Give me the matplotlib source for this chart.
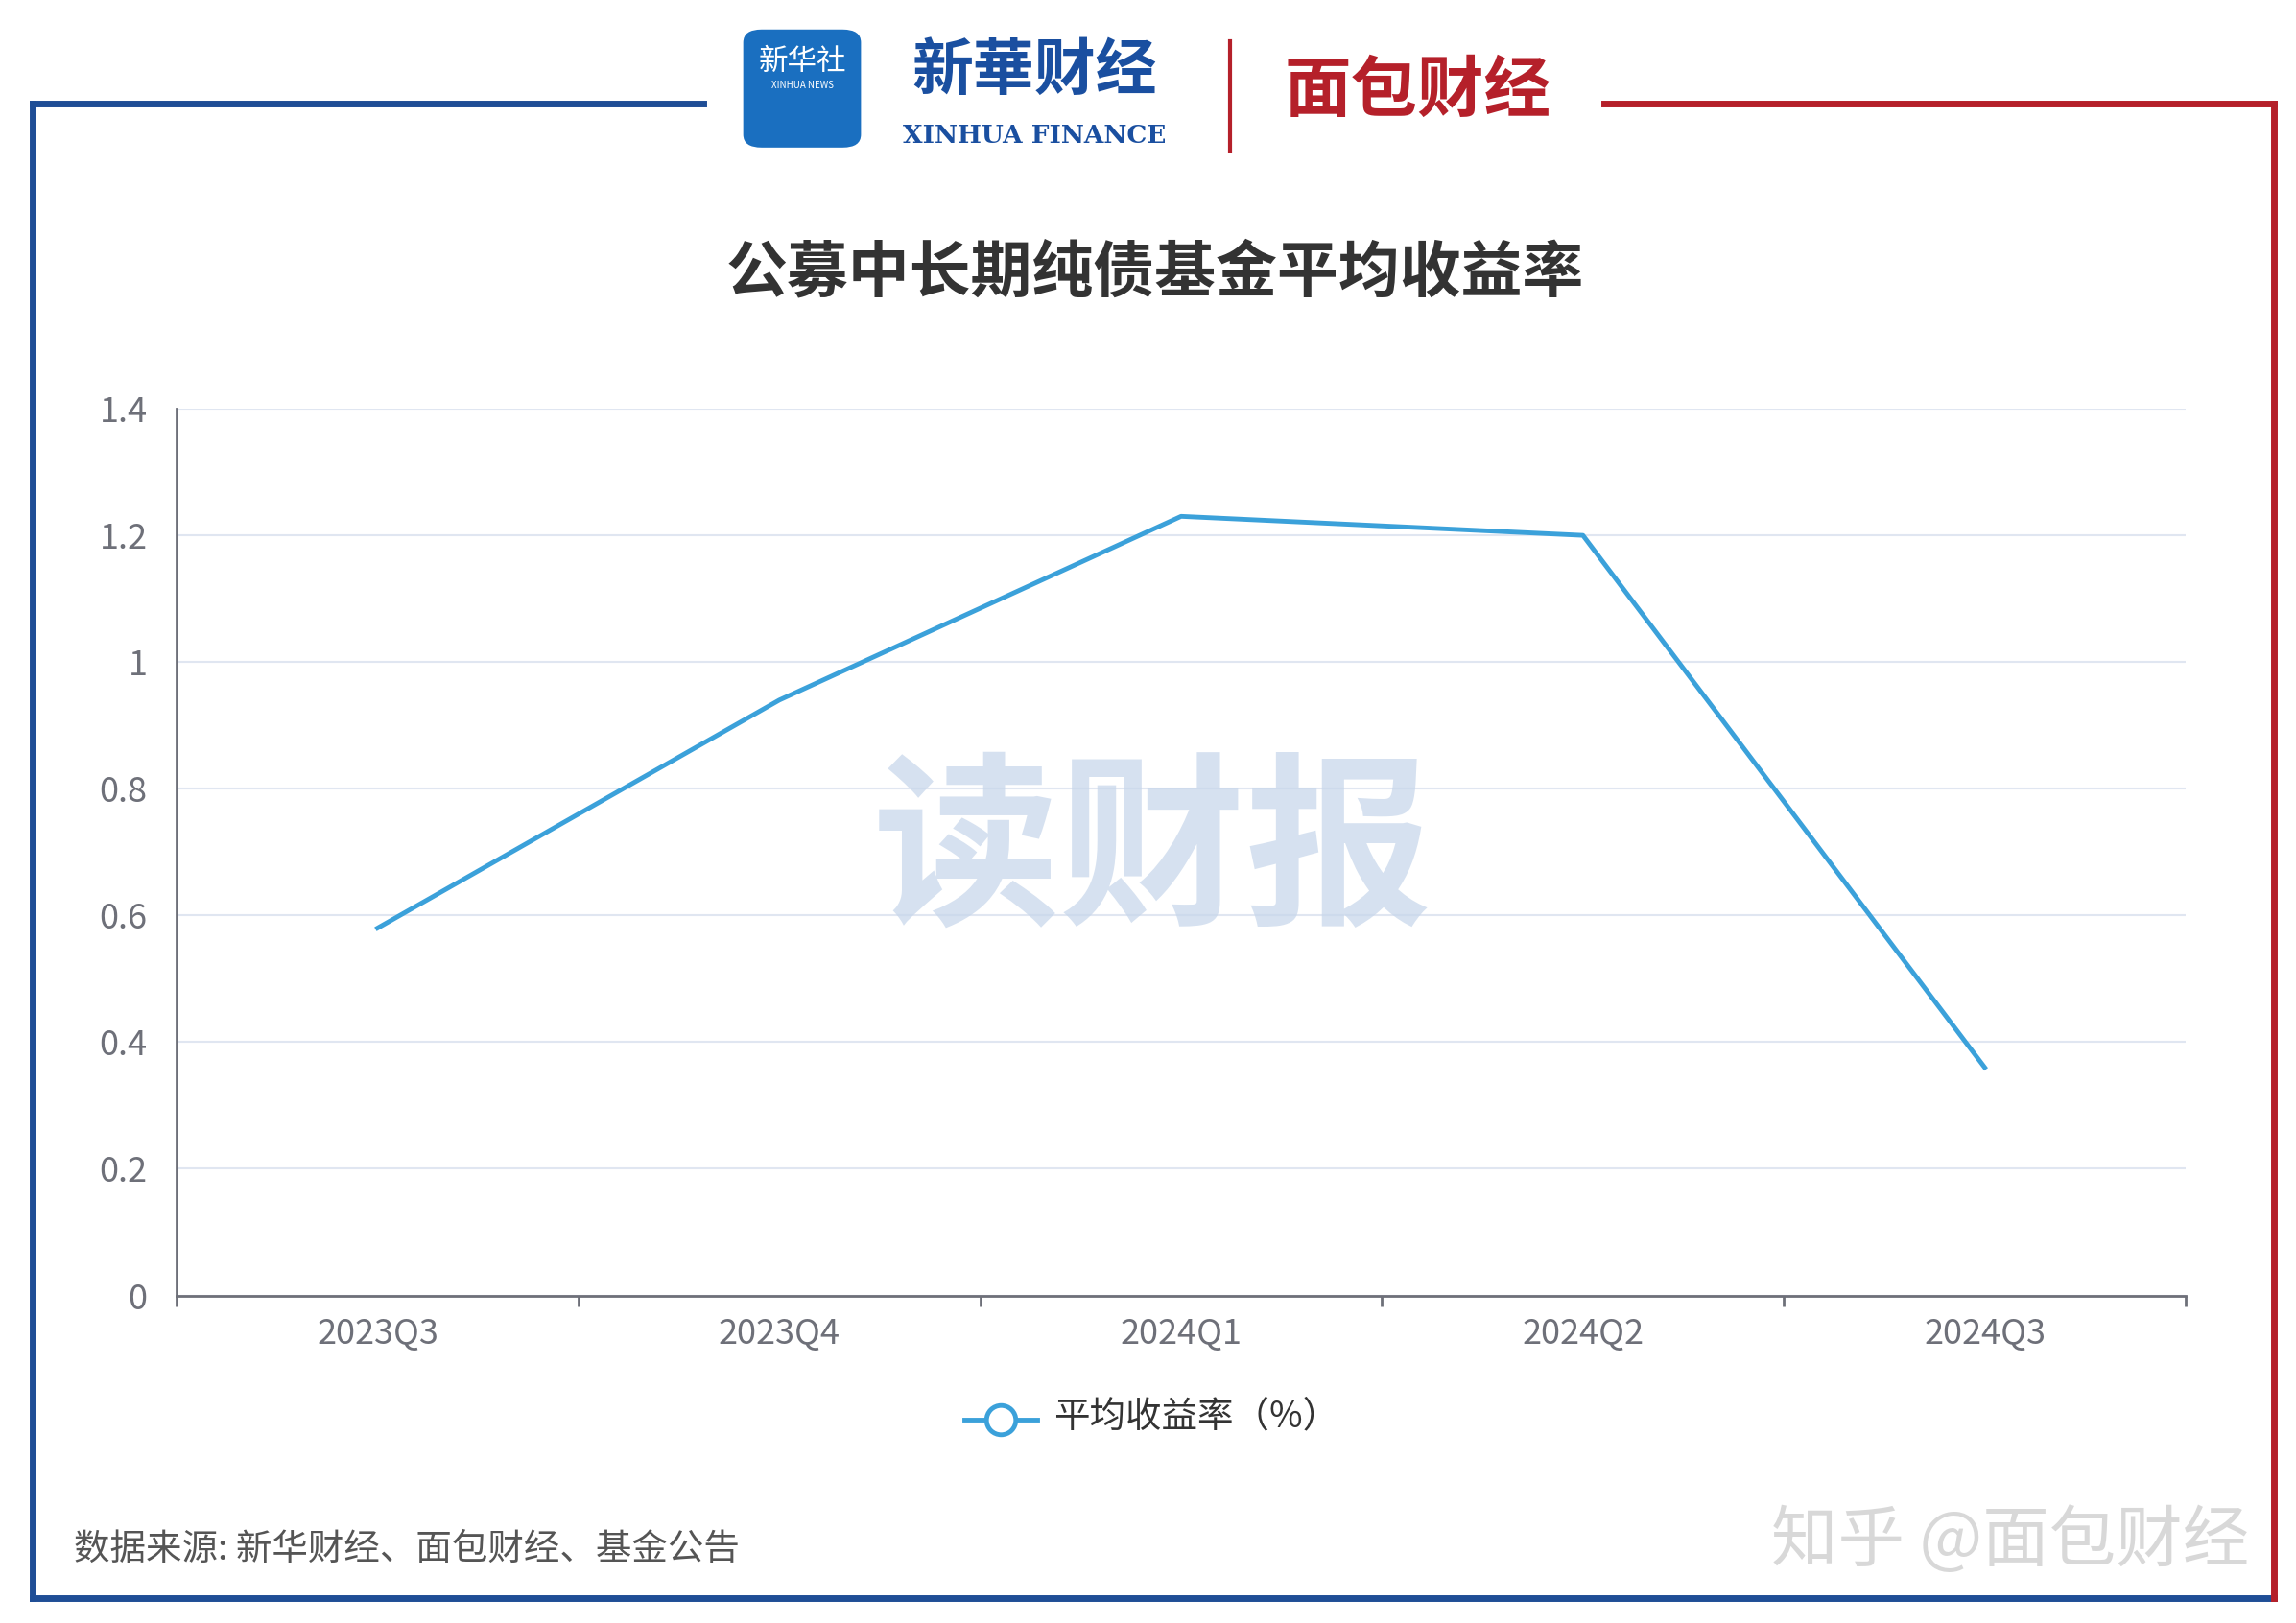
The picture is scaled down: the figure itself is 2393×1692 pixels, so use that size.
import matplotlib.pyplot as plt
from matplotlib.lines import Line2D
from matplotlib.patches import FancyBboxPatch

plt.rcParams['font.family'] = ['Noto Sans CJK SC', 'DejaVu Sans']

quarters = ['2023Q3', '2023Q4', '2024Q1', '2024Q2', '2024Q3']
avg_return = [0.58, 0.94, 1.23, 1.20, 0.36]
y_ticks = [0, 0.2, 0.4, 0.6, 0.8, 1, 1.2, 1.4]

W, H = 1560, 1100  # layout units in reference pixels
fig = plt.figure(figsize=(23.93, 16.92), dpi=100)

def fx(x):
    return x / W

def fy(y):
    return 1 - y / H

blue = '#1f4e96'
red = '#b5202a'
# frame
fig.add_artist(Line2D([fx(22), fx(478)], [fy(70), fy(70)], color=blue, lw=5))
fig.add_artist(Line2D([fx(22), fx(22)], [fy(70), fy(1083)], color=blue, lw=5))
fig.add_artist(Line2D([fx(22), fx(1545)], [fy(1083), fy(1083)], color=blue, lw=5))
fig.add_artist(Line2D([fx(1090), fx(1545)], [fy(70), fy(70)], color=red, lw=5))
fig.add_artist(Line2D([fx(1545), fx(1545)], [fy(70), fy(1083)], color=red, lw=5))

# logos
fig.add_artist(FancyBboxPatch((fx(505), fy(100)), fx(80), 80 / H,
                              boxstyle='round,pad=0,rounding_size=0.008',
                              fc='#1a6fc0', ec='none'))
fig.text(fx(545), fy(42), '新华社', color='white', fontsize=22, ha='center', va='center')
fig.text(fx(545), fy(58), 'XINHUA NEWS', color='white', fontsize=7, ha='center', va='center')
fig.text(fx(703), fy(48), '新華财经', color='#1a4fa0', fontsize=46, ha='center', va='center',
         fontweight='bold', style='italic')
fig.text(fx(703), fy(92), 'XINHUA FINANCE', color='#1a4fa0', fontsize=19, ha='center',
         va='center', fontweight='bold', family='DejaVu Serif')
fig.add_artist(Line2D([fx(836), fx(836)], [fy(28), fy(102)], color=red, lw=3))
fig.text(fx(963), fy(62), '面包财经', color=red, fontsize=50, ha='center', va='center',
         fontweight='black')

fig.text(fx(785), fy(185), '公募中长期纯债基金平均收益率', color='#333333', fontsize=46,
         ha='center', va='center', fontweight='bold')

# watermark
fig.text(fx(783), fy(580), '读财报', color='#c5d5ea', fontsize=140, ha='center',
         va='center', fontweight='black', alpha=0.7, zorder=0)

ax = fig.add_axes([fx(120), fy(878), fx(1485 - 120), (878 - 277) / H])
ax.set_facecolor('none')
x = list(range(len(quarters)))
ax.plot(x, avg_return, color='#3ba1da', lw=3.5, zorder=3)
ax.set_xlim(-0.5, len(quarters) - 0.5)
ax.set_ylim(0, 1.4)
ax.set_yticks(y_ticks)
ax.set_yticklabels([f'{t:g}' for t in y_ticks])
ax.set_xticks(x)
ax.set_xticklabels(quarters)
ax.set_xticks([i - 0.5 for i in range(len(quarters) + 1)], minor=True)
ax.tick_params(axis='x', which='major', length=0, pad=16)
ax.tick_params(axis='x', which='minor', length=8, width=2, color='#6e7079')
ax.tick_params(axis='y', length=0, pad=22)
ax.tick_params(labelsize=26, labelcolor='#6e7079')
ax.grid(axis='y', color='#e0e6f1', lw=1.5)
for s in ['top', 'right']:
    ax.spines[s].set_visible(False)
for s in ['left', 'bottom']:
    ax.spines[s].set_color('#6e7079')
    ax.spines[s].set_linewidth(2)

# legend
fig.add_artist(Line2D([fx(655), fx(705)], [fy(962), fy(962)], color='#3ba1da', lw=3.5))
fig.add_artist(Line2D([fx(680)], [fy(962)], marker='o', ms=22, mfc='white',
                      mec='#3ba1da', mew=3.5))
fig.text(fx(716), fy(960), '平均收益率（%）', color='#333333', fontsize=27, va='center')

fig.text(fx(50), fy(1050), '数据来源: 新华财经、面包财经、基金公告', color='#555555',
         fontsize=27, va='center')
fig.text(fx(1528), fy(1045), '知乎 @面包财经', color='#d8d8d8', fontsize=50,
         va='center', ha='right')

fig.savefig('out.png', dpi=100, facecolor='white')
